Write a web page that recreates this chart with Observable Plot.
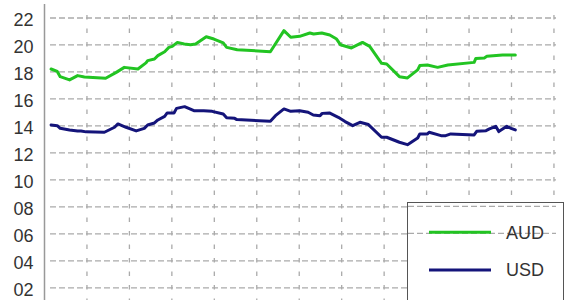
<!DOCTYPE html>
<html><head><meta charset="utf-8">
<script src="https://cdn.jsdelivr.net/npm/d3@7"></script>
<script src="https://cdn.jsdelivr.net/npm/@observablehq/plot@0.6"></script>
<style>
html,body{margin:0;padding:0;background:#fff;}
#wrap{position:relative;width:564px;height:300px;overflow:hidden;font-family:"Liberation Sans",Arial,sans-serif;}
#legend{position:absolute;left:407px;top:202px;width:157px;height:120px;border:1px solid #555;background:#fff;box-sizing:border-box;}
#legend svg{position:absolute;left:0;top:0;}
</style></head><body><div id="wrap"></div>
<script>
const seriesNames = ["AUD", "USD"];
const seriesColors = ["#22c422", "#14147a"];

const audX = [0.155,0.30,0.37,0.59,0.78,0.94,1.44,1.69,1.88,2.20,2.39,2.43,2.59,2.67,2.83,2.93,3.01,3.13,3.29,3.44,3.56,3.81,3.99,4.21,4.29,4.54,5.32,5.64,5.80,6.01,6.25,6.34,6.53,6.72,6.88,6.97,7.23,7.49,7.66,7.94,8.06,8.36,8.55,8.79,8.84,9.02,9.26,9.50,10.12,10.16,10.36,10.42,10.79,11.09];
const audY = [18.22,18.04,17.65,17.41,17.73,17.63,17.53,17.97,18.34,18.22,18.67,18.84,18.96,19.21,19.50,19.82,19.90,20.19,20.07,20.02,20.07,20.61,20.44,20.15,19.82,19.65,19.50,21.06,20.57,20.64,20.89,20.81,20.89,20.74,20.44,20.02,19.78,20.19,19.90,18.64,18.59,17.65,17.56,18.15,18.47,18.52,18.34,18.52,18.71,19.00,19.04,19.16,19.26,19.26];

const usdX = [0.155,0.30,0.37,0.59,0.78,0.86,0.98,1.41,1.65,1.73,1.92,2.16,2.35,2.43,2.59,2.67,2.83,2.89,3.05,3.11,3.30,3.52,3.75,3.95,4.21,4.29,4.48,4.53,5.32,5.44,5.64,5.80,6.01,6.21,6.33,6.49,6.54,6.71,6.92,7.08,7.26,7.43,7.63,7.94,8.06,8.36,8.55,8.79,8.84,9.02,9.06,9.34,9.45,9.57,10.12,10.18,10.40,10.48,10.63,10.70,10.89,10.99,11.09];
const usdY = [14.07,14.02,13.82,13.70,13.63,13.63,13.56,13.53,13.90,14.15,13.90,13.63,13.82,14.07,14.22,14.44,14.71,14.96,14.96,15.30,15.43,15.13,15.13,15.08,14.89,14.61,14.56,14.47,14.34,14.76,15.26,15.08,15.13,15.01,14.81,14.76,14.93,14.96,14.64,14.32,14.02,14.27,14.10,13.16,13.16,12.79,12.61,13.11,13.41,13.41,13.53,13.28,13.28,13.41,13.33,13.60,13.65,13.78,13.97,13.58,13.97,13.82,13.70];

const yTicks = [2,4,6,8,10,12,14,16,18,20,22];
const xTicks = [1,2,3,4,5,6,7,8,9,10,11,12];
const legendGridValues = [8, 6];

const data = [
  ...audX.map((x, i) => ({series: "AUD", x, y: audY[i]})),
  ...usdX.map((x, i) => ({series: "USD", x, y: usdY[i]}))
];

const chart = Plot.plot({
  width: 564, height: 300,
  marginTop: 4, marginBottom: 0, marginLeft: 44, marginRight: 8,
  x: {domain: [0, 12.06], axis: null},
  y: {domain: [1.06, 23], axis: null},
  color: {domain: seriesNames, range: seriesColors},
  style: {fontFamily: '"Liberation Sans", Arial, sans-serif', background: "transparent", overflow: "visible"},
  marks: [
    Plot.ruleX(xTicks, {stroke: "#aaa", strokeWidth: 1.3, strokeDasharray: "4.5,9", strokeDashoffset: 11.45, insetTop: 9}),
    Plot.ruleY(yTicks, {stroke: "#aaa", strokeWidth: 1.3, strokeDasharray: "6,3", insetLeft: 6}),
    Plot.ruleX([0], {stroke: "#999", strokeWidth: 1.5}),
    Plot.axisY(yTicks, {tickSize: 0, tickPadding: 11, tickFormat: d3.format("02d"), fontSize: 18, fill: "#333", dy: 2, label: null}),
    Plot.line(data, {x: "x", y: "y", z: "series", stroke: "series", strokeWidth: 3})
  ]
});

const wrap = document.getElementById("wrap");
wrap.appendChild(chart);

// legend
const legend = document.createElement("div");
legend.id = "legend";
wrap.appendChild(legend);
const yS = chart.scale("y");
const xS = chart.scale("x");
const lTop = 203, lLeft = 408;
const svg = d3.create("svg").attr("width", 160).attr("height", 120);
legendGridValues.forEach(v => {
  svg.append("line")
    .attr("x1", 0).attr("x2", xS.apply(12.06) - lLeft)
    .attr("y1", yS.apply(v) - lTop).attr("y2", yS.apply(v) - lTop)
    .attr("stroke", "#aaa").attr("stroke-width", 1.3).attr("stroke-dasharray", "6,3");
});
seriesNames.forEach((name, i) => {
  const cy = 29.3 + i * 37.7;
  svg.append("line").attr("x1", 21).attr("x2", 83).attr("y1", cy).attr("y2", cy)
    .attr("stroke", seriesColors[i]).attr("stroke-width", 3);
  svg.append("text").attr("x", 98).attr("y", cy + 6.3)
    .attr("font-size", 18).attr("fill", "#333")
    .attr("font-family", '"Liberation Sans", Arial, sans-serif')
    .text(name);
});
legend.appendChild(svg.node());
</script>
</body></html>
